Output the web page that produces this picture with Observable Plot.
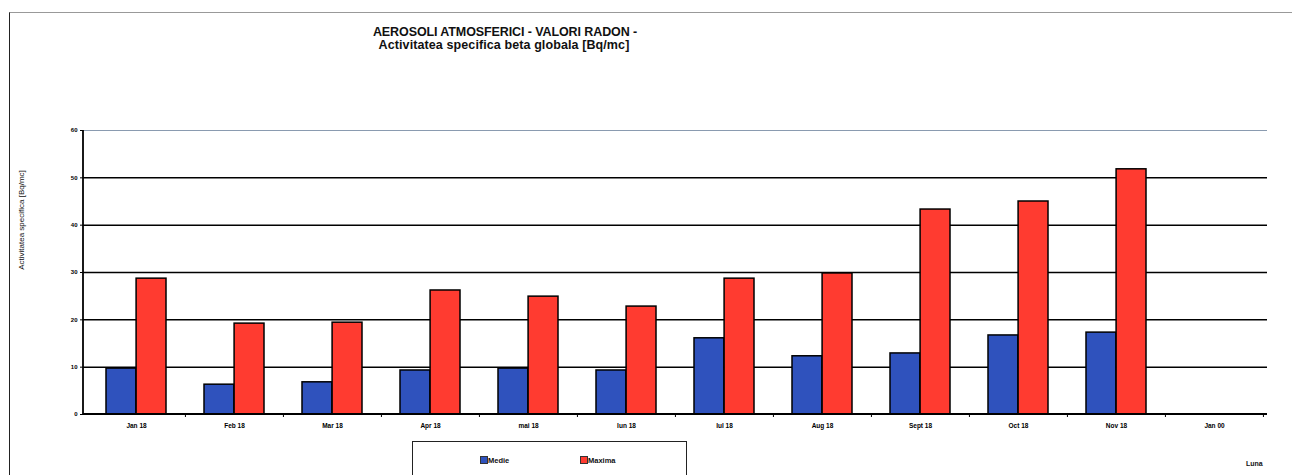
<!DOCTYPE html>
<html>
<head>
<meta charset="utf-8">
<script src="https://cdn.jsdelivr.net/npm/d3@7"></script>
<script src="https://cdn.jsdelivr.net/npm/@observablehq/plot@0.6"></script>
<style>
  html, body { margin: 0; padding: 0; background: #fff; }
  #wrap { position: relative; width: 1292px; height: 475px; overflow: hidden; font-family: "Liberation Sans", Arial, sans-serif; }
  #wrap svg { position: absolute; left: 0; top: 0; }
  .ov { position: absolute; font-weight: bold; color: #111; white-space: nowrap; }
</style>
</head>
<body>
<div id="wrap"></div>
<script>
const months = ["Jan 18","Feb 18","Mar 18","Apr 18","mai 18","Iun 18","Iul 18","Aug 18","Sept 18","Oct 18","Nov 18","Jan 00"];
const medie  = [9.7, 6.3, 6.8, 9.3, 9.7, 9.3, 16.1, 12.3, 12.9, 16.7, 17.3, null];
const maxima = [28.7, 19.2, 19.4, 26.2, 24.9, 22.8, 28.7, 29.8, 43.3, 45.0, 51.8, null];
const yTicks = [0, 10, 20, 30, 40, 50, 60];
const seriesNames = ["Medie", "Maxima"];
const colors = ["#2f52bd", "#ff3b30"];

const dMedie = months.map((m, i) => ({month: m, v: medie[i]})).filter(d => d.v != null);
const dMax = months.map((m, i) => ({month: m, v: maxima[i]})).filter(d => d.v != null);

const W = 1292, H = 475;
const mL = 83, mR = 25, mT = 130, mB = 61;
const step = (W - mL - mR) / months.length;
const bw = step * 0.61;
const half = bw / 2;

function axisDecor(...args) {
  const scales = args.find(a => a && typeof a.x === "function" && typeof a.y === "function");
  const x = scales.x, y = scales.y;
  const g = d3.create("svg:g");
  const x0 = mL, x1 = W - mR;
  g.append("line").attr("x1", x0).attr("x2", x0).attr("y1", y(60)).attr("y2", y(0))
    .attr("stroke", "#000").attr("stroke-width", 1.8);
  g.append("line").attr("x1", x0).attr("x2", x1).attr("y1", y(0)).attr("y2", y(0))
    .attr("stroke", "#000").attr("stroke-width", 1.8);
  months.forEach((m, i) => {
    const bx = x(m) - (step - bw) / 2 + step;
    g.append("line").attr("x1", bx).attr("x2", bx).attr("y1", y(0)).attr("y2", y(0) + 3)
      .attr("stroke", "#000").attr("stroke-width", 1);
  });
  return g.node();
}

const plot = Plot.plot({
  width: W, height: H,
  marginLeft: mL, marginRight: mR, marginTop: mT, marginBottom: mB,
  style: {fontFamily: "Liberation Sans, Arial, sans-serif", background: "transparent"},
  x: {domain: months, paddingInner: 0.39, paddingOuter: 0.195, label: null},
  y: {domain: [0, 60], label: null},
  marks: [
    Plot.ruleY(yTicks.filter(t => t > 0 && t < 60), {stroke: "#000", strokeWidth: 1.5}),
    Plot.ruleY([60], {stroke: "#8a9bb0", strokeWidth: 1}),
    Plot.barY(dMedie, {x: "month", y: "v", fill: colors[0], stroke: "#000", strokeWidth: 1.5, insetRight: half}),
    Plot.barY(dMax, {x: "month", y: "v", fill: colors[1], stroke: "#000", strokeWidth: 1.5, insetLeft: half}),
    Plot.axisX({tickSize: 0, tickPadding: 9, fontSize: 6.5, fontWeight: "bold", label: null}),
    Plot.axisY({ticks: yTicks, tickSize: 3, tickPadding: 3, fontSize: 6, fontWeight: "bold", label: null}),
    axisDecor
  ]
});
const wrap = document.getElementById("wrap");
wrap.appendChild(plot);

const fr = document.createElement("div");
fr.style.cssText = "position:absolute;left:9px;top:12px;width:1290px;height:470px;border-left:1.5px solid #222;border-top:1.5px solid #999;";
wrap.appendChild(fr);

function ov(text, css) {
  const d = document.createElement("div");
  d.className = "ov";
  d.textContent = text;
  d.style.cssText += css;
  wrap.appendChild(d);
  return d;
}
ov("AEROSOLI ATMOSFERICI - VALORI RADON -", "left:505px;top:25px;transform:translateX(-50%);font-size:12.5px;letter-spacing:-0.1px;");
ov("Activitatea specifica beta globala [Bq/mc]", "left:504px;top:38px;transform:translateX(-50%);font-size:12.5px;letter-spacing:0.1px;");
ov("Activitatea specifica [Bq/mc]", "left:21px;top:220px;transform:translate(-50%,-50%) rotate(-90deg);font-size:8px;font-weight:normal;");
ov("Luna", "left:1246px;top:460px;font-size:7px;");

const lg = document.createElement("div");
lg.style.cssText = "position:absolute;left:412px;top:441px;width:273px;height:40px;border:1.5px solid #222;background:#fff;";
wrap.appendChild(lg);
const lx = [480, 580];
seriesNames.forEach((s, i) => {
  const sw = document.createElement("div");
  sw.style.cssText = `position:absolute;left:${lx[i]}px;top:456px;width:6px;height:6px;background:${colors[i]};border:1px solid #333;`;
  wrap.appendChild(sw);
  ov(s, `left:${lx[i] + 8}px;top:456px;font-size:7.5px;`);
});
</script>
</body>
</html>
